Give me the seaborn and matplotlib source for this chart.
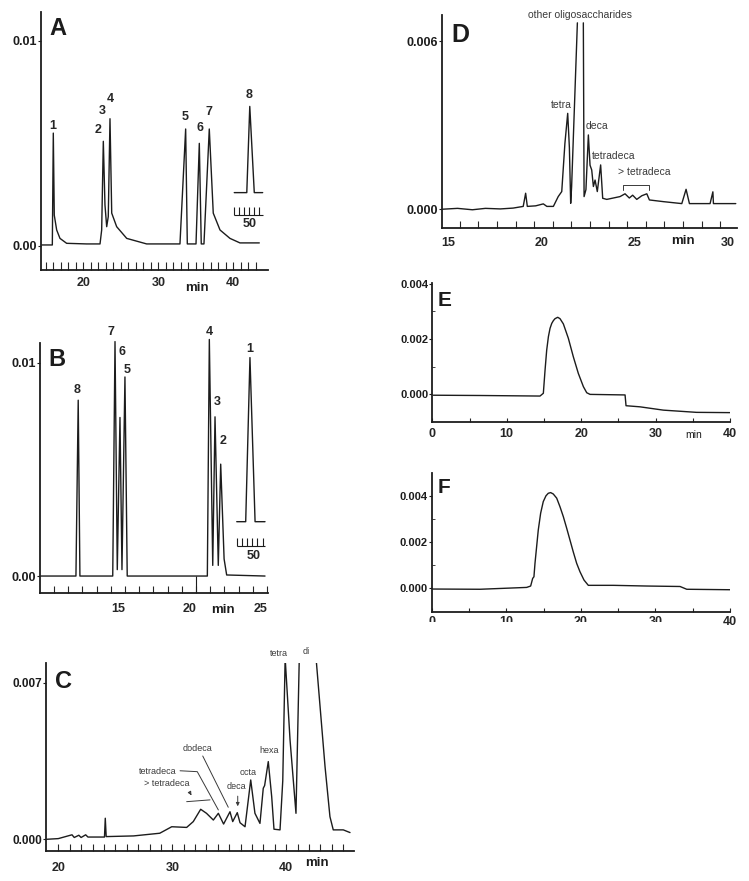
import numpy as np
import matplotlib
matplotlib.use("Agg")
import matplotlib.pyplot as plt
from matplotlib.patches import Rectangle
import seaborn as sns

# ==========================================
# DATA
# ==========================================
# --- A: standards, run 1
A_time = [14.45, 15.56, 15.87, 16.0, 16.13, 16.45, 16.89, 17.78, 20.45, 22.23, 22.45,
          22.67, 22.89, 23.12, 23.33, 23.56, 23.79, 24.45, 25.79, 28.45, 32.89, 33.65,
          33.87, 35.03, 35.47, 35.73, 36.09, 36.8, 37.33, 38.23, 39.56, 40.89, 43.47]
A_signal = [0.00005, 0.00005, 0.00005, 0.0055, 0.0015, 0.00078, 0.00037, 0.00013, 0.0001,
            0.0001, 0.00078, 0.0051, 0.002, 0.00094, 0.00143, 0.0062, 0.0016, 0.00094,
            0.00037, 0.0001, 0.0001, 0.0057, 0.0001, 0.0001, 0.005, 0.0001, 0.0001,
            0.0057, 0.0016, 0.00078, 0.00037, 0.00015, 0.00015]
A_inset_time = [40.13, 41.8, 42.2, 42.8, 43.92]
A_inset_signal = [0.0026, 0.0026, 0.0068, 0.0026, 0.0026]
A_scale_ticks = [40.13, 40.8, 41.47, 42.13, 42.8, 43.47]
A_peak_ids = ["1", "2", "3", "4", "5", "6", "7", "8"]
A_label_x = [15.87, 22.0, 22.53, 23.56, 33.56, 35.56, 36.8, 42.13]
A_label_y = [0.00587, 0.00566, 0.00659, 0.00717, 0.00628, 0.00574, 0.00655, 0.00737]

# --- B: standards, run 2
B_time = [9.55, 12.02, 12.18, 12.30, 14.61, 14.77, 14.93, 15.12, 15.26, 15.47, 15.63,
          21.27, 21.41, 21.65, 21.81, 22.04, 22.21, 22.45, 22.63, 25.33]
B_signal = [0.0, 0.0, 0.00825, 0.0, 0.0, 0.0110, 0.0003, 0.00744, 0.0003, 0.00934, 0.0,
            0.0, 0.0111, 0.0005, 0.00747, 0.0005, 0.00525, 0.0008, 0.00005, 0.0]
B_inset_time = [23.34, 23.97, 24.27, 24.63, 25.33]
B_inset_signal = [0.00255, 0.00255, 0.01025, 0.00255, 0.00255]
B_scale_ticks = [23.38, 23.73, 24.08, 24.44, 24.79, 25.21]
B_peak_ids = ["8", "7", "6", "5", "4", "3", "2", "1"]
B_label_x = [12.11, 14.49, 15.24, 15.59, 21.39, 21.97, 22.39, 24.23]
B_label_y = [0.00875, 0.01144, 0.01052, 0.00966, 0.01145, 0.00817, 0.00634, 0.01063]

# --- C: hydrolysate (off-scale tops are clipped by the axes)
C_time = [18.98, 20.0, 21.2, 21.4, 21.8, 22.0, 22.4, 22.6, 23.7, 24.05, 24.12, 24.2,
          26.6, 28.9, 29.95, 31.26, 31.84, 32.49, 33.0, 33.6, 34.04, 34.5, 35.06, 35.3,
          35.7, 35.94, 36.38, 36.88, 37.25, 37.69, 37.98, 38.1, 38.42, 38.72, 38.92,
          39.45, 39.69, 39.9, 40.33, 40.85, 41.14, 41.3, 42.45, 42.61, 43.4, 43.83,
          44.12, 45.0, 45.59]
C_signal = [0.0, 0.00003, 0.0002, 0.00008, 0.00018, 0.00008, 0.0002, 0.0001, 0.0001,
            0.0001, 0.00094, 0.00012, 0.00015, 0.00027, 0.00056, 0.00053, 0.00079,
            0.00134, 0.00116, 0.00086, 0.00116, 0.00068, 0.00123, 0.00079, 0.00119,
            0.00074, 0.00056, 0.00265, 0.00116, 0.00071, 0.00228, 0.0024, 0.00347,
            0.0019, 0.00045, 0.00042, 0.00261, 0.0081, 0.00443, 0.00116, 0.0081,
            0.0100, 0.0100, 0.0081, 0.00324, 0.00101, 0.00042, 0.00042, 0.0003]

# --- D: oligosaccharide mix (trace broken where it leaves the chart)
D1_time = [14.7, 15.5, 16.3, 17.0, 17.8, 18.49, 19.03, 19.16, 19.25, 19.7, 20.11, 20.3,
           20.65, 20.91, 21.1, 21.27, 21.42, 21.51, 21.58, 21.63, 21.94]
D1_signal = [0.0, 0.00003, -0.00002, 0.00003, 0.00001, 0.00004, 0.0001, 0.00057, 0.0001,
             0.00012, 0.00019, 0.0001, 0.0001, 0.00045, 0.00063, 0.00235, 0.00342,
             0.0022, 0.00021, 0.0008, 0.00665]
D2_time = [22.26, 22.3, 22.4, 22.53, 22.62, 22.71, 22.8, 22.89, 23.01, 23.19, 23.3,
           23.52, 24.23, 24.5, 24.73, 24.91, 25.13, 25.4, 25.67, 25.81, 26.56, 27.55,
           27.78, 27.96, 29.07, 29.22, 29.25, 30.45]
D2_signal = [0.00665, 0.00045, 0.0007, 0.00265, 0.00157, 0.0014, 0.00081, 0.00104,
             0.00063, 0.00158, 0.00039, 0.00035, 0.00045, 0.00055, 0.0004, 0.0005,
             0.00035, 0.00048, 0.00055, 0.00033, 0.00027, 0.0002, 0.00071, 0.0002,
             0.0002, 0.00062, 0.0002, 0.0002]

# --- E, F: single broad peaks
E_time = [0.13, 6.41, 14.47, 14.92, 15.15, 15.37, 15.6, 15.82, 16.05, 16.27, 16.49,
          16.85, 17.16, 17.61, 18.28, 18.95, 19.62, 20.3, 20.75, 21.2, 25.9, 26.03,
          27.9, 31.05, 35.5, 40.0]
E_signal = [-0.00003, -0.00004, -0.00006, 0.00004, 0.00088, 0.0016, 0.00209, 0.00239,
            0.00257, 0.00267, 0.00274, 0.00279, 0.00274, 0.00255, 0.00203, 0.00136,
            0.00076, 0.00028, 0.00006, 0.0, -0.00002, -0.00041, -0.00045, -0.00057,
            -0.00065, -0.00066]
F_time = [0.13, 6.47, 12.73, 13.27, 13.54, 13.71, 13.85, 14.29, 14.61, 14.96, 15.32,
          15.63, 15.95, 16.3, 16.76, 17.2, 17.65, 18.1, 18.54, 18.98, 19.44, 19.88,
          20.42, 21.0, 24.35, 28.82, 33.3, 34.2, 40.0]
F_signal = [-0.00003, -0.00004, 0.00004, 0.0001, 0.00043, 0.0005, 0.00108, 0.00252,
            0.00325, 0.00375, 0.004, 0.00411, 0.00414, 0.00408, 0.0039, 0.00353,
            0.0031, 0.0026, 0.00209, 0.00158, 0.00108, 0.00072, 0.00036, 0.00013,
            0.00013, 0.0001, 0.00008, -0.00004, -0.00006]

# ==========================================
# FIGURE SETUP
# ==========================================
W, H = 749, 881
INK = "#1c1c1c"
GREY = "#3a3a3a"

sns.set_style("ticks")
plt.rcParams["font.family"] = ["Liberation Sans", "DejaVu Sans"]

fig = plt.figure(figsize=(W / 100, H / 100), dpi=100)


def panel(x0, x1, ytop, ybot):
    # place axes by pixel box of the reference
    return fig.add_axes([x0 / W, 1 - ybot / H, (x1 - x0) / W, (ybot - ytop) / H])


def trace(ax, t, s, clip=True):
    sns.lineplot(x=t, y=s, ax=ax, sort=False, estimator=None, color=INK,
                 linewidth=1.0, legend=False)
    ax.lines[-1].set_clip_on(clip)


def frame(ax, ylab_size=9, ylab_weight="bold"):
    sns.despine(ax=ax)
    for side in ["left", "bottom"]:
        ax.spines[side].set_linewidth(1.3)
        ax.spines[side].set_color(INK)
    ax.tick_params(axis="y", direction="out", length=2, width=0.8, pad=1,
                   labelsize=ylab_size, colors=INK)
    for lab in ax.get_yticklabels():
        lab.set_fontweight(ylab_weight)
    for lab in ax.get_xticklabels():
        lab.set_fontweight("bold")
    ax.set_xlabel("")
    ax.set_ylabel("")


def figtext(px, py, s, **kw):
    fig.text(px / W, 1 - py / H, s, ha="center", va="center", color=INK, **kw)


# ------------------------------------------
# A
# ------------------------------------------
axA = panel(40.7, 268, 12, 270)
trace(axA, A_time, A_signal)
trace(axA, A_inset_time, A_inset_signal)
axA.hlines(0.0015, A_scale_ticks[0], A_inset_time[-1], color=INK, lw=0.8)
axA.vlines(A_scale_ticks, 0.0015, 0.0019, color=INK, lw=0.8)
axA.text(42.2, 0.00107, "50", ha="center", va="center", fontsize=9, fontweight="bold")
for pid, lx, ly in zip(A_peak_ids, A_label_x, A_label_y):
    axA.text(lx, ly, pid, ha="center", va="center", fontsize=9, fontweight="bold")
axA.set_xlim(14.32, 44.63)
axA.set_ylim(-0.00117, 0.0114)
axA.set_xticks([20, 30, 40], ["20", "30", "40"])
axA.set_xticks(np.arange(15, 44), minor=True)
axA.tick_params(axis="x", which="both", direction="in", length=6, width=0.8,
                pad=5, labelsize=9)
axA.set_yticks([0, 0.01], ["0.00", "0.01"])
frame(axA)
figtext(58.3, 28.3, "A", fontsize=17, fontweight="bold")
figtext(196.7, 288.3, "min", fontsize=9.5, fontweight="bold")

# ------------------------------------------
# B
# ------------------------------------------
axB = panel(40, 268, 343.3, 593.3)
trace(axB, B_time, B_signal, clip=False)
trace(axB, B_inset_time, B_inset_signal, clip=False)
axB.hlines(0.0014, B_scale_ticks[0], B_inset_time[-1], color=INK, lw=0.8)
axB.vlines(B_scale_ticks, 0.0014, 0.0018, color=INK, lw=0.8)
axB.text(24.56, 0.00094, "50", ha="center", va="center", fontsize=9, fontweight="bold")
for pid, lx, ly in zip(B_peak_ids, B_label_x, B_label_y):
    axB.text(lx, ly, pid, ha="center", va="center", fontsize=9, fontweight="bold")
axB.set_xlim(9.49, 25.54)
axB.set_ylim(-0.00081, 0.01092)
axB.set_xticks([15, 20, 25], ["15", "20", "25"])
axB.set_xticks(np.arange(10.47, 25.5, 1.0), minor=True)
axB.tick_params(axis="x", which="major", length=0, pad=7, labelsize=9)
axB.tick_params(axis="x", which="minor", direction="in", length=5, width=0.8)
axB.vlines(20.47, -0.00081, 0.0, color=INK, lw=0.8)
axB.set_yticks([0, 0.01], ["0.00", "0.01"])
frame(axB)
figtext(57, 359, "B", fontsize=17, fontweight="bold")
figtext(222.7, 610, "min", fontsize=9.5, fontweight="bold")

# ------------------------------------------
# C
# ------------------------------------------
axC = panel(46, 354, 663.3, 850.7)
trace(axC, C_time, C_signal)
axC.set_xlim(18.92, 45.94)
axC.set_ylim(-0.00051, 0.00786)
axC.set_xticks([20, 30, 40], ["20", "30", "40"])
axC.set_xticks(np.arange(20, 46), minor=True)
axC.tick_params(axis="x", which="both", direction="in", length=5, width=0.8,
                pad=8, labelsize=9)
axC.set_yticks([0, 0.007], ["0.000", "0.007"])
frame(axC, ylab_size=8.5)
ann = dict(ha="center", va="center", fontsize=6.5, color=GREY)
axC.text(39.39, 0.00831, "tetra", clip_on=False, **ann)
axC.text(41.73, 0.00838, "di", clip_on=False, **ann)
axC.text(38.51, 0.00396, "hexa", **ann)
axC.text(36.67, 0.00298, "octa", **ann)
axC.text(35.65, 0.00235, "deca", **ann)
axC.text(32.23, 0.00407, "dodeca", **ann)
axC.text(28.68, 0.00302, "tetradeca", **ann)
axC.text(29.51, 0.0025, "> tetradeca", **ann)
lead = dict(color=GREY, lw=0.7)
axC.plot([30.68, 32.19, 34.04], [0.00306, 0.00302, 0.00131], **lead)
axC.plot([32.67, 34.91], [0.00372, 0.00143], **lead)
axC.plot([31.26, 33.31], [0.00168, 0.00176], **lead)
axC.annotate("", xy=(35.74, 0.00135), xytext=(35.74, 0.00205),
             arrowprops=dict(arrowstyle="-|>", color=GREY, lw=0.7, mutation_scale=5))
axC.annotate("", xy=(31.8, 0.00186), xytext=(31.49, 0.00213),
             arrowprops=dict(arrowstyle="-|>", color=GREY, lw=0.7, mutation_scale=5))
figtext(63.3, 681.7, "C", fontsize=17, fontweight="bold")
figtext(316.7, 863.3, "min", fontsize=9.5, fontweight="bold")

# ------------------------------------------
# D
# ------------------------------------------
axD = panel(441.7, 736.7, 15, 227.7)
trace(axD, D1_time, D1_signal)
trace(axD, D2_time, D2_signal)
axD.set_xlim(14.65, 30.5)
axD.set_ylim(-0.00066, 0.00693)
axD.set_xticks([15, 20, 25, 30], ["15", "20", "25", "30"])
axD.set_xticks(np.arange(15.62, 30.0, 1.0), minor=True)
axD.tick_params(axis="x", which="major", length=0, pad=7, labelsize=9)
axD.tick_params(axis="x", which="minor", direction="in", length=5, width=0.8)
axD.set_yticks([0, 0.006], ["0.000", "0.006"])
frame(axD)
annD = dict(ha="center", va="center", fontsize=7.5, color=GREY)
axD.text(22.08, 0.00693, "other oligosaccharides", clip_on=False, **annD)
axD.text(21.06, 0.00372, "tetra", **annD)
axD.text(23.01, 0.00297, "deca", **annD)
axD.text(23.87, 0.0019, "tetradeca", **annD)
axD.text(25.54, 0.00134, "> tetradeca", **annD)
axD.plot([24.41, 24.41, 25.81, 25.81], [0.0007, 0.00087, 0.00087, 0.0007],
         color=GREY, lw=0.7)
figtext(460.7, 35, "D", fontsize=18, fontweight="bold")
figtext(682.7, 241, "min", fontsize=9.5, fontweight="bold")

# ------------------------------------------
# E
# ------------------------------------------
axE = panel(432.3, 730, 283.3, 422.3)
trace(axE, E_time, E_signal)
axE.set_xlim(0, 40)
axE.set_ylim(-0.00101, 0.00402)
axE.set_xticks([0, 10, 20, 30, 40], ["0", "10", "20", "30", "40"])
axE.set_xticks([5, 15, 25, 35], minor=True)
axE.tick_params(axis="x", which="both", direction="in", length=3, width=0.8,
                pad=4, labelsize=9)
axE.set_yticks([0, 0.002, 0.004], ["0.000", "0.002", "0.004"])
axE.set_yticks([0.001, 0.003], minor=True)
axE.tick_params(axis="y", which="minor", direction="in", length=2, width=0.6)
frame(axE, ylab_size=8)
figtext(445, 300, "E", fontsize=15, fontweight="bold")
figtext(693.3, 435, "min", fontsize=7.5)

# ------------------------------------------
# F
# ------------------------------------------
axF = panel(431.7, 730, 472.7, 611.7)
trace(axF, F_time, F_signal)
axF.set_xlim(0, 40)
axF.set_ylim(-0.00101, 0.005)
axF.set_xticks([0, 10, 20, 30, 40], ["0", "10", "20", "30", "40"])
axF.set_xticks([5, 15, 25, 35], minor=True)
axF.tick_params(axis="x", which="both", direction="in", length=3, width=0.8,
                pad=3, labelsize=9)
axF.set_yticks([0, 0.002, 0.004], ["0.000", "0.002", "0.004"])
axF.set_yticks([0.001, 0.003], minor=True)
axF.tick_params(axis="y", which="minor", direction="in", length=2, width=0.6)
frame(axF, ylab_size=8)
figtext(444, 487.3, "F", fontsize=15, fontweight="bold")

# the scan cuts the lower half of F's first tick labels
fig.add_artist(Rectangle((415 / W, 1 - 640 / H), (715 - 415) / W, (640 - 621.5) / H,
                         transform=fig.transFigure, facecolor="white",
                         edgecolor="none", zorder=10))

fig.savefig("out.png", dpi=100)
